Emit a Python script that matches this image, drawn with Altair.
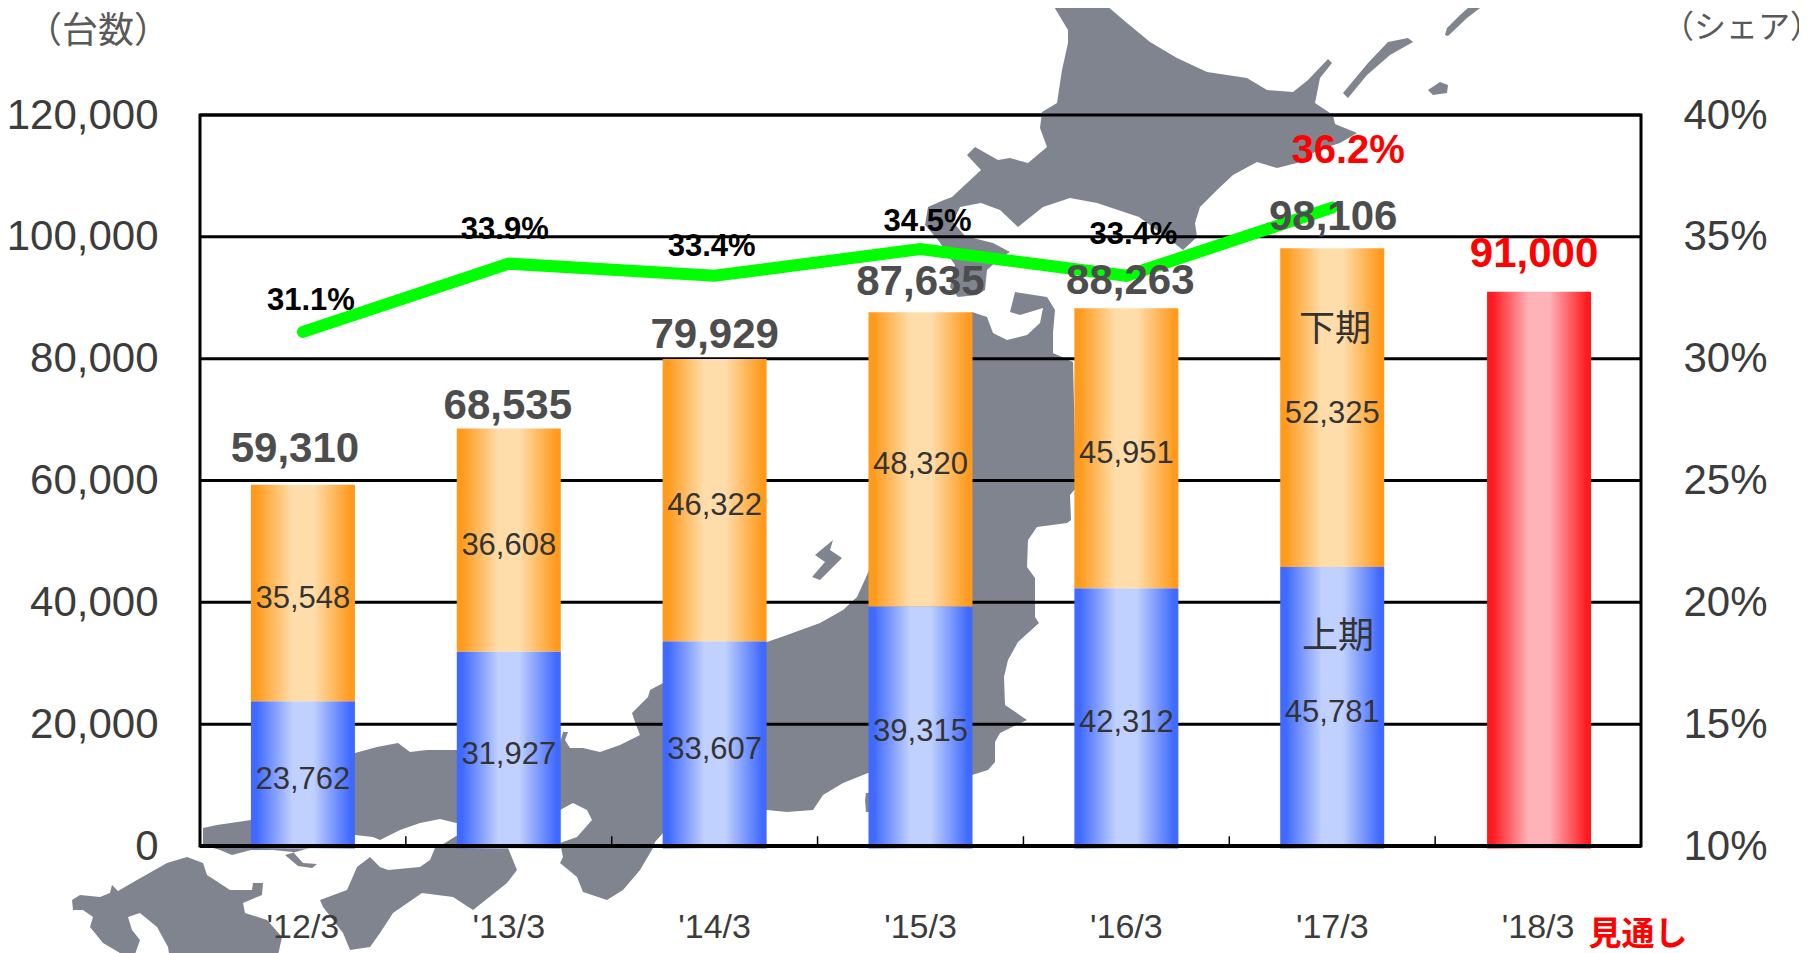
import altair as alt
import pandas as pd

# ---- chart values ----
CATS = ["'12/3", "'13/3", "'14/3", "'15/3", "'16/3", "'17/3", "'18/3"]
FIRST_HALF = [23762, 31927, 33607, 39315, 42312, 45781]
SECOND_HALF = [35548, 36608, 46322, 48320, 45951, 52325]
TOTALS = [59310, 68535, 79929, 87635, 88263, 98106, 91000]
SHARES = [31.1, 33.9, 33.4, 34.5, 33.4, 36.2]
LEFT_TICKS = [0, 20000, 40000, 60000, 80000, 100000, 120000]
RIGHT_TICKS = [10, 15, 20, 25, 30, 35, 40]

# label nudges from their anchor (dx, dy)
TOTAL_NUDGE = [(-8, -36), (-1, -23), (0, -24), (0, -30), (4, -27), (1, -31), (-4, -38)]
SHARE_NUDGE = [(8, -31), (-4, -34), (-3, -29), (7, -27), (7, -41), (16, -57)]

# background silhouette of Japan, traced in page pixels
MAP_RINGS = [
    # Hokkaido
    [(1050,0),(1100,0),(1127,23),(1150,42),(1177,58),(1207,72),(1247,78),(1267,90),(1293,92),(1308,80),
     (1328,59),(1332,63),(1320,78),(1315,103),(1333,115),(1335,124),(1357,133),(1340,143),(1318,150),(1297,163),
     (1277,168),(1257,162),(1233,175),(1217,190),(1200,207),(1195,223),(1197,237),(1183,250),(1170,240),(1139,217),
     (1097,203),(1070,198),(1043,207),(1018,227),(1000,210),(981,203),(960,207),(953,222),(965,236),(993,243),
     (1010,252),(1000,258),(987,270),(985,290),(977,295),(958,297),(950,287),(955,265),(938,240),(925,225),
     (928,207),(944,200),(952,197),(981,170),(967,155),(975,147),(998,160),(1010,158),(1028,163),(1047,147),(1040,128),
     (1042,112),(1057,103),(1062,70),(1068,43),(1068,30)],
    # Honshu
    [(203,828),(217,825),(251,820),(355,753),(377,747),(398,743),(410,752),(427,750),(456,750),(560,743),
     (563,732),(568,732),(565,740),(570,748),(583,748),(600,752),(620,745),(640,735),(635,722),(632,713),
     (648,697),(650,690),(663,683),(767,642),(787,635),(820,623),(843,610),(857,597),(867,575),(972,312),
     (987,317),(993,333),(1007,340),(1027,335),(1040,323),(1043,308),(1020,315),(1010,312),(1015,292),(1047,297),
     (1055,310),(1053,333),(1053,353),(1073,362),(1076,488),(1070,495),(1071,520),(1067,523),(1037,527),(1028,540),
     (1027,567),(1035,578),(1035,617),(1039,623),(1018,642),(1008,660),(1004,677),(1005,705),(1027,720),(1000,733),
     (995,742),(995,762),(988,770),(972,775),(868,773),(843,783),(823,795),(813,810),(787,812),(767,810),
     (663,833),(655,842),(653,848),(640,870),(623,890),(607,900),(583,892),(577,877),(560,863),(563,857),
     (560,843),(577,837),(592,820),(587,810),(573,803),(560,810),(456,823),(440,819),(420,823),(400,830),
     (380,840),(373,837),(355,835),(285,855),(298,866),(312,868),(317,864),(303,863),(293,852),(273,850),
     (251,850),(232,855),(220,850),(203,845)],
    # Izu tip
    [(866,793),(873,793),(873,812),(866,812),(865,800)],
    # Sado
    [(833,540),(815,555),(825,562),(812,577),(820,580),(842,558),(830,550)],
    # Shikoku
    [(320,900),(347,890),(357,867),(370,857),(380,867),(388,870),(420,867),(430,860),(435,848),(445,843),
     (456,836),(508,848),(517,870),(507,883),(473,910),(453,897),(422,893),(393,913),(380,933),(370,947),
     (350,950),(343,933),(323,907)],
    # Kyushu
    [(72,900),(80,895),(100,897),(110,893),(112,885),(118,891),(137,880),(167,863),(187,857),(203,863),
     (207,875),(230,890),(252,890),(253,883),(263,883),(262,895),(243,903),(245,913),(267,920),(282,937),
     (277,960),(170,960),(168,947),(157,927),(140,913),(128,917),(132,930),(140,940),(133,960),(120,953),
     (103,943),(90,927),(93,917),(83,910),(73,910)],
    # Northern islands
    [(1343,93),(1348,98),(1367,75),(1390,55),(1413,42),(1408,38),(1388,42),(1368,63)],
    [(1445,35),(1448,36),(1467,18),(1488,2),(1477,0),(1460,15),(1447,28)],
    [(1428,90),(1440,82),(1448,85),(1447,93),(1433,95)],
]

# ---- layout ----
PAGE_LEFT, PAGE_TOP = 200, 115
W, H = 1441, 731
SANS = "Liberation Sans"
CJK = "Noto Sans CJK JP"
GREY = "#3C3C3C"


def grad(edge, mid):
    return alt.LinearGradient(
        gradient="linear", x1=0, x2=1, y1=0, y2=0,
        stops=[
            alt.GradientStop(color=edge, offset=0),
            alt.GradientStop(color=edge, offset=0.05),
            alt.GradientStop(color=mid, offset=0.4),
            alt.GradientStop(color=mid, offset=0.6),
            alt.GradientStop(color=edge, offset=0.96),
            alt.GradientStop(color=edge, offset=1),
        ],
    )


XS = alt.Scale(type="band", domain=CATS, paddingInner=0, paddingOuter=0)
YL = alt.Scale(domain=[0, 120000], nice=False, zero=False)
YR = alt.Scale(domain=[10, 40], nice=False, zero=False)
X_AXIS = alt.Axis(
    labelFont=SANS, labelFontSize=34, labelColor=GREY, labelAngle=0, labelPadding=64,
    ticks=False, domain=False, grid=False, zindex=1, labelOverlap=False, labelBaseline="top",
)
X = alt.X("cat:N", scale=XS, axis=X_AXIS, title=None)


def yl(field):
    return alt.Y(field, scale=YL, axis=None, title=None)


map_path = " ".join(
    "M" + "L".join(f"{x - PAGE_LEFT},{y - PAGE_TOP}" for x, y in ring) + "Z" for ring in MAP_RINGS
)

one = pd.DataFrame({"k": [0]})
map_layer = alt.Chart(one).mark_point(
    shape=map_path, size=4, filled=True, fill="#80848F", opacity=1, strokeWidth=0
).encode(x=alt.value(0), y=alt.value(0))

grid = alt.Chart(pd.DataFrame({"v": LEFT_TICKS})).mark_rule(color="black", strokeWidth=3).encode(
    x=alt.value(0), x2=alt.value(W),
    y=alt.Y("v:Q", scale=YL, title=None, axis=alt.Axis(
        values=LEFT_TICKS, labelExpr="format(datum.value, ',')", labelFont=SANS, labelFontSize=42,
        labelColor=GREY, labelPadding=42, ticks=False, domain=False, grid=False, zindex=1,
        labelFlush=False, labelOverlap=False)),
)

# small ticks between the categories
ticks = alt.Chart(pd.DataFrame({"cat": CATS[:6], "a": [0] * 6, "b": [1600] * 6})).mark_rule(
    color="black", strokeWidth=1.5
).encode(x=alt.X("cat:N", scale=XS, axis=X_AXIS, title=None, bandPosition=1), y=yl("a:Q"), y2="b:Q")

# bars start a touch under the axis line, as in the picture
BASE = -400
lower = pd.DataFrame({"cat": CATS[:6], "y0": [BASE] * 6, "y1": FIRST_HALF})
upper = pd.DataFrame({
    "cat": CATS[:6], "y0": FIRST_HALF,
    "y1": [a + b for a, b in zip(FIRST_HALF, SECOND_HALF)],
})
fcst = pd.DataFrame({"cat": CATS[6:], "y0": [BASE], "y1": TOTALS[6:]})

bar_lower = alt.Chart(lower).mark_bar(size=104, color=grad("#3F69FF", "#C0D0FF")).encode(
    x=X, y=yl("y0:Q"), y2="y1:Q",
)
bar_upper = alt.Chart(upper).mark_bar(size=104, color=grad("#FF9A1C", "#FFDDAB")).encode(
    x=X, y=yl("y0:Q"), y2="y1:Q"
)
bar_fcst = alt.Chart(fcst).mark_bar(size=104, xOffset=1, color=grad("#FF1A1F", "#FFB2B8")).encode(
    x=X, y=yl("y0:Q"), y2="y1:Q"
)

axis_line = alt.Chart(one).mark_rule(color="black", strokeWidth=4).encode(
    x=alt.value(0), x2=alt.value(W), y=alt.value(H)
)

line = alt.Chart(pd.DataFrame({"cat": CATS[:6], "s": SHARES})).mark_line(
    color="#00FF00", strokeWidth=12, strokeCap="round", strokeJoin="miter"
).encode(
    x=X,
    y=alt.Y("s:Q", scale=YR, title=None, axis=alt.Axis(
        orient="right", values=RIGHT_TICKS, labelExpr="datum.value + '%'", labelFont=SANS,
        labelFontSize=42, labelColor=GREY, labelAlign="right", labelPadding=126, ticks=False,
        domain=False, grid=False, zindex=1, labelFlush=False, labelOverlap=False)),
)

layers = [map_layer, grid, ticks, bar_lower, bar_upper, bar_fcst, axis_line, line]

# segment values
seg = pd.DataFrame({
    "cat": CATS[:6] * 2,
    "y": [a / 2 for a in FIRST_HALF] + [a + b / 2 for a, b in zip(FIRST_HALF, SECOND_HALF)],
    "t": [f"{a:,}" for a in FIRST_HALF] + [f"{b:,}" for b in SECOND_HALF],
})
layers.append(alt.Chart(seg).mark_text(font=SANS, fontSize=31, color="#333333", dy=6).encode(
    x=X, y=yl("y:Q"), text="t:N"))

# totals
tops = [a + b for a, b in zip(FIRST_HALF, SECOND_HALF)] + TOTALS[6:]
for i, (c, total, top, (dx, dy)) in enumerate(zip(CATS, TOTALS, tops, TOTAL_NUDGE)):
    layers.append(alt.Chart(pd.DataFrame({"cat": [c], "y": [top], "t": [f"{total:,}"]})).mark_text(
        font=SANS, fontWeight="bold", fontSize=42, dx=dx, dy=dy,
        color="#FF0000" if i == 6 else "#4D4D4D",
    ).encode(x=X, y=yl("y:Q"), text="t:N"))

# shares
for i, (c, s, (dx, dy)) in enumerate(zip(CATS, SHARES, SHARE_NUDGE)):
    last = i == 5
    layers.append(alt.Chart(pd.DataFrame({"cat": [c], "s": [s], "t": [f"{s}%"]})).mark_text(
        font=SANS, fontWeight="bold", fontSize=40 if last else 31, dx=dx, dy=dy,
        color="#FF0000" if last else "#000000",
    ).encode(x=X, y=alt.Y("s:Q", scale=YR, axis=None, title=None), text="t:N"))


def free_text(t, px, py, size, color, font=CJK, weight="normal"):
    return alt.Chart(one).mark_text(
        text=t, font=font, fontSize=size, color=color, fontWeight=weight
    ).encode(x=alt.value(px - PAGE_LEFT), y=alt.value(py - PAGE_TOP))


layers += [
    free_text("（台数）", 98, 32, 36, "#595959"),
    free_text("（シェア）", 1742, 28, 32, "#595959"),
    free_text("下期", 1335, 330, 36, "#333333"),
    free_text("上期", 1338, 637, 36, "#333333"),
    free_text("見通し", 1638, 935, 33, "#FF0000", weight="bold"),
]

chart = (
    alt.layer(*layers)
    .resolve_scale(y="independent")
    .properties(
        width=W, height=H,
        autosize=alt.AutoSizeParams(type="none"),
        padding={"left": PAGE_LEFT - 8, "top": PAGE_TOP - 8, "right": 1791 - W - (PAGE_LEFT - 8),
                 "bottom": 945 - H - (PAGE_TOP - 8)},
    )
    .configure_view(stroke="black", strokeWidth=3)
)

chart.save("out.html", embed_options={"renderer": "svg", "actions": False})
